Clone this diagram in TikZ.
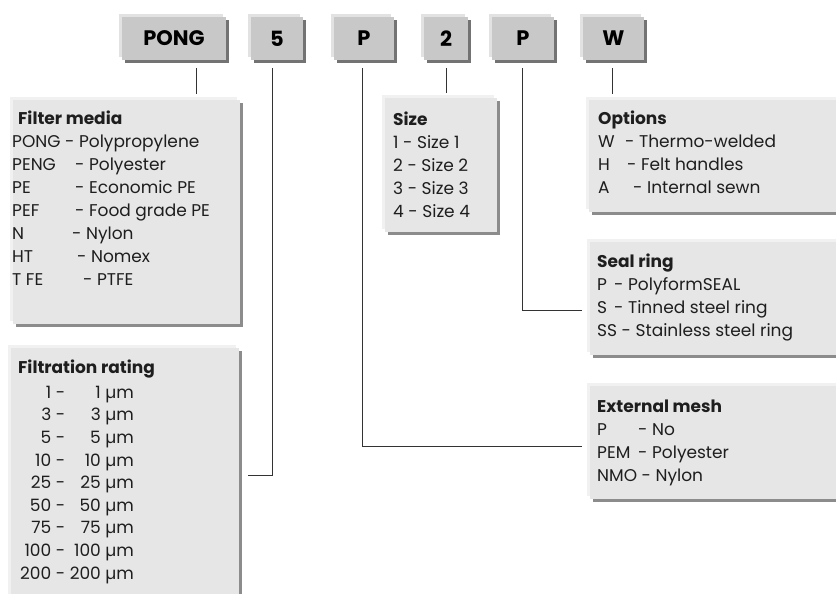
\documentclass[tikz,border=0pt]{standalone}
\usepackage{fontspec}
\setmainfont{Poppins}
\usetikzlibrary{calc,shadows}
\definecolor{topfill}{HTML}{C8C8C8}
\definecolor{toplight}{HTML}{E2E2E2}
\definecolor{topdark}{HTML}{737373}
\definecolor{infofill}{HTML}{E6E6E6}
\definecolor{infolight}{HTML}{F1F1F1}
\definecolor{infodark}{HTML}{8C8C8C}
\definecolor{txt}{HTML}{1E1E1E}
\definecolor{conn}{HTML}{333333}
\begin{document}
\begin{tikzpicture}[x=1pt,y=-1pt,
  topbox/.style={rectangle, fill=topfill, inner sep=0pt, minimum height=43pt,
    font=\fontsize{21}{25}\selectfont\bfseries, text=black,
    general shadow={fill=toplight, shadow xshift=-3pt, shadow yshift=3pt},
    general shadow={fill=topdark, shadow xshift=3pt, shadow yshift=-3pt}},
  infobox/.style={rectangle, fill=infofill, inner sep=0pt, anchor=north west,
    general shadow={fill=infolight, shadow xshift=-3pt, shadow yshift=3pt},
    general shadow={fill=infodark, shadow xshift=3pt, shadow yshift=-3pt}},
  infotext/.style={anchor=north west, inner sep=0pt, align=left, text=txt,
    font=\fontsize{17}{23}\selectfont},
  connector/.style={draw=conn, line width=0.9pt}]
\useasboundingbox (0,0) rectangle (836,594);

% top code boxes
\node[topbox, minimum width=104pt] (pong) at (174,38.5) {PONG};
\node[topbox, minimum width=52pt] (five) at (277,38.5) {5};
\node[topbox, minimum width=60pt] (pa) at (364,38.5) {P};
\node[topbox, minimum width=44pt] (two) at (446,38.5) {2};
\node[topbox, minimum width=62pt] (pb) at (523,38.5) {P};
\node[topbox, minimum width=61pt] (w) at (613.5,38.5) {W};

% info boxes
\node[infobox, minimum width=227pt, minimum height=224pt] (fm) at (13,100) {};
\node[infobox, minimum width=228pt, minimum height=260pt] (fr) at (11,348) {};
\node[infobox, minimum width=112pt, minimum height=134pt] (sz) at (385,98) {};
\node[infobox, minimum width=260pt, minimum height=112pt] (op) at (589,100) {};
\node[infobox, minimum width=260pt, minimum height=113pt] (sr) at (590,242) {};
\node[infobox, minimum width=260pt, minimum height=113pt] (em) at (590,386) {};

% texts
\node[infotext] (fmt) at (12,111) {\hspace*{6pt}\textbf{Filter media}\\
PONG - Polypropylene\\
\makebox[63pt][l]{PENG}- Polyester\\
\makebox[63pt][l]{PE}- Economic PE\\
\makebox[63pt][l]{PEF}- Food grade PE\\
\makebox[60pt][l]{N}- Nylon\\
\makebox[65pt][l]{HT}- Nomex\\
\makebox[71pt][l]{T FE}- PTFE};

\node[infotext] (frh) at (18,360) {\textbf{Filtration rating}};
\node[infotext, anchor=north west] (frt) at (20,382) {%
\renewcommand{\arraystretch}{0.985}%
\begin{tabular}{@{}r@{ - }r@{ µm}}
1 & 1\\ 3 & 3\\ 5 & 5\\ 10 & 10\\ 25 & 25\\ 50 & 50\\ 75 & 75\\ 100 & 100\\ 200 & 200
\end{tabular}};

\node[infotext] (szt) at (393,112) {\textbf{Size}\\
1 - Size 1\\ 2 - Size 2\\ 3 - Size 3\\ 4 - Size 4};

\node[infotext] (opt) at (598,111) {\textbf{Options}\\
\makebox[27pt][l]{W}- Thermo-welded\\
\makebox[29pt][l]{H}- Felt handles\\
\makebox[35pt][l]{A}- Internal sewn};

\node[infotext] (srt) at (597,254) {\textbf{Seal ring}\\
\makebox[17pt][l]{P}- PolyformSEAL\\
\makebox[17pt][l]{S}- Tinned steel ring\\
SS - Stainless steel ring};

\node[infotext] (emt) at (597,400) {\textbf{External mesh}\\
\makebox[41pt][l]{P}- No\\
\makebox[41pt][l]{PEM}- Polyester\\
NMO - Nylon};

% connectors
\coordinate (x1) at (196,0);
\coordinate (x2) at (272,0);
\coordinate (x3) at (362,0);
\coordinate (x4) at (446,0);
\coordinate (x5) at (522,0);
\coordinate (x6) at (612,0);
\coordinate (b2) at (0,475);
\coordinate (b3) at (0,446);
\coordinate (b5) at (0,310);

\draw[connector] ($(pong.south -| x1)+(0,8)$) -- ($(fm.north -| x1)+(0,-6)$);
\draw[connector] ($(five.south -| x2)+(0,8)$) -- (b2 -| x2) -- ($(b2 -| fr.east)+(9,0)$);
\draw[connector] ($(pa.south -| x3)+(0,8)$) -- (b3 -| x3) -- ($(b3 -| em.west)+(-8,0)$);
\draw[connector] ($(two.south -| x4)+(0,8)$) -- ($(sz.north -| x4)+(0,-5)$);
\draw[connector] ($(pb.south -| x5)+(0,8)$) -- (b5 -| x5) -- ($(b5 -| sr.west)+(-8,0)$);
\draw[connector] ($(w.south -| x6)+(0,8)$) -- ($(op.north -| x6)+(0,-6)$);
\end{tikzpicture}
\end{document}
